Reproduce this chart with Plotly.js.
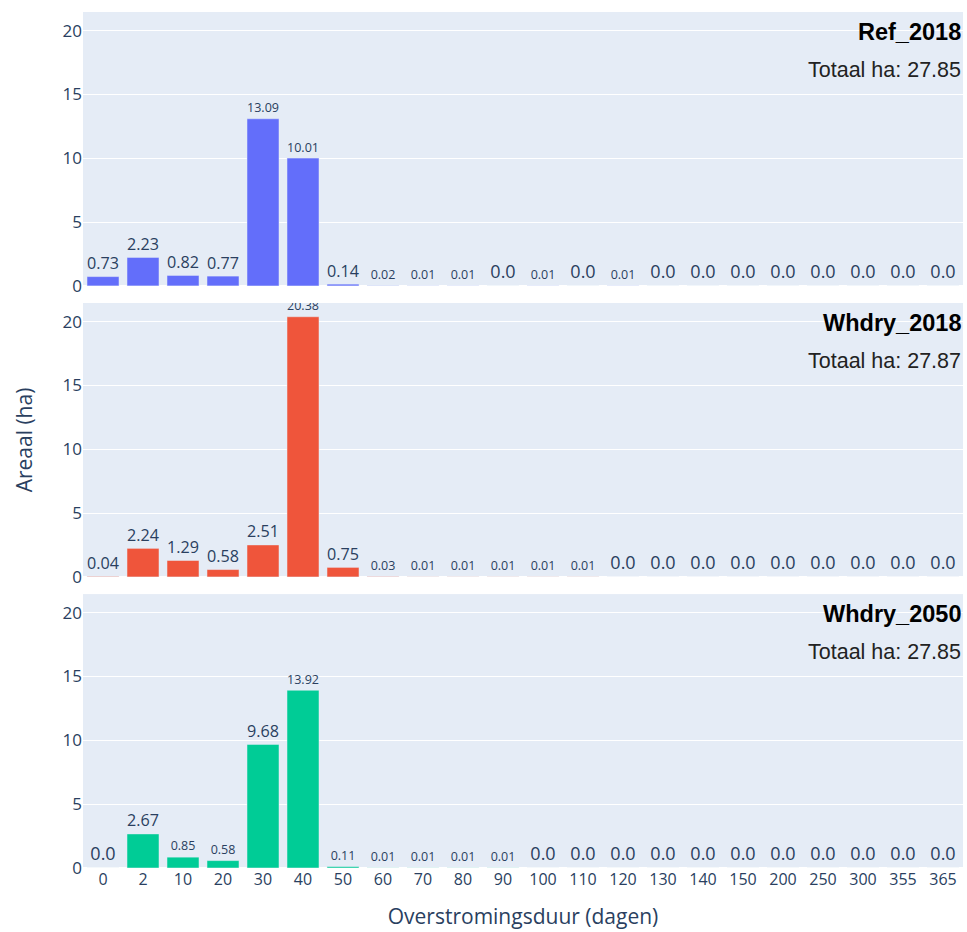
<!DOCTYPE html>
<html>
<head>
<meta charset="utf-8">
<script src="https://cdn.plot.ly/plotly-3.0.1.min.js"></script>
<style>html,body{margin:0;padding:0;background:#fff;}#chart{width:967px;height:932px;}</style>
</head>
<body>
<div id="chart"></div>
<script>
const categories = ["0","2","10","20","30","40","50","60","70","80","90","100","110","120","130","140","150","200","250","300","355","365"];
const ref2018 = [0.73,2.23,0.82,0.77,13.09,10.01,0.14,0.02,0.01,0.01,0.0,0.01,0.0,0.01,0.0,0.0,0.0,0.0,0.0,0.0,0.0,0.0];
const whdry2018 = [0.04,2.24,1.29,0.58,2.51,20.38,0.75,0.03,0.01,0.01,0.01,0.01,0.01,0.0,0.0,0.0,0.0,0.0,0.0,0.0,0.0,0.0];
const whdry2050 = [0.0,2.67,0.85,0.58,9.68,13.92,0.11,0.01,0.01,0.01,0.01,0.0,0.0,0.0,0.0,0.0,0.0,0.0,0.0,0.0,0.0,0.0];
const seriesNames = ["Ref_2018","Whdry_2018","Whdry_2050"];
const totals = ["27.85","27.87","27.85"];
const colors = ["#636efa","#EF553B","#00cc96"];

// label font sizes as drawn in the reference (style only; Plotly shrinks wide labels to the bar width)
const S = 18, s = 12.5;
const labelSizes = [
  [S,S,S,S,S,S,S,s,s,s,S,s,S,s,S,S,S,S,S,S,S,S],
  [S,S,S,S,S,S,S,s,s,s,s,s,s,S,S,S,S,S,S,S,S,S],
  [S,S,s,s,S,S,s,s,s,s,s,S,S,S,S,S,S,S,S,S,S,S]
];

function pyStr(v){ return Number.isInteger(v) ? v.toFixed(1) : String(v); }

const allSeries = [ref2018, whdry2018, whdry2050];
const traces = allSeries.map((vals, i) => ({
  type: 'bar',
  x: categories,
  y: vals,
  text: vals.map(pyStr),
  textposition: 'outside',
  textfont: {size: labelSizes[i], color: '#2a3f5f'},
  marker: {color: colors[i], line: {color: '#E5ECF6', width: 0.5}},
  xaxis: i === 0 ? 'x' : 'x' + (i + 1),
  yaxis: i === 0 ? 'y' : 'y' + (i + 1),
  name: seriesNames[i],
  showlegend: false
}));

const domains = [[0.68, 1], [0.34, 0.66], [0, 0.32]];
const fontFamily = '"Open Sans", verdana, arial, sans-serif';
const layout = {
  width: 967, height: 932,
  margin: {l: 83, r: 4, t: 12, b: 64},
  paper_bgcolor: '#ffffff',
  plot_bgcolor: '#E5ECF6',
  font: {family: fontFamily, color: '#2a3f5f'},
  showlegend: false,
  annotations: []
};
for (let i = 0; i < 3; i++) {
  const sx = i === 0 ? '' : String(i + 1);
  layout['xaxis' + sx] = {
    type: 'category',
    anchor: 'y' + sx,
    matches: i === 0 ? undefined : 'x',
    showticklabels: i === 2,
    showgrid: false,
    tickfont: {family: fontFamily, size: 16, color: '#2a3f5f'},
    zeroline: false,
    ticks: '',
    title: i === 2 ? {text: 'Overstromingsduur (dagen)', font: {size: 21, color: '#2a3f5f'}, standoff: 20} : undefined
  };
  layout['yaxis' + sx] = {
    domain: domains[i],
    anchor: 'x' + sx,
    matches: i === 0 ? undefined : 'y',
    tickfont: {family: fontFamily, size: 17, color: '#2a3f5f'},
    gridcolor: '#ffffff',
    gridwidth: 1,
    zeroline: true,
    zerolinecolor: '#ffffff',
    zerolinewidth: 2,
    dtick: 5,
    ticks: '',
    title: i === 1 ? {text: 'Areaal (ha)', font: {size: 21, color: '#2a3f5f'}, standoff: 24} : undefined
  };
  layout.annotations.push({
    xref: 'x' + sx + ' domain', yref: 'y' + sx + ' domain',
    x: 1, y: 0.927, xanchor: 'right', yanchor: 'middle', showarrow: false,
    text: '<b>' + seriesNames[i] + '</b>',
    font: {family: 'Arial', size: 23.5, color: '#000000'}
  });
  layout.annotations.push({
    xref: 'x' + sx + ' domain', yref: 'y' + sx + ' domain',
    x: 1, y: 0.79, xanchor: 'right', yanchor: 'middle', showarrow: false,
    text: 'Totaal ha: ' + totals[i],
    font: {family: 'Arial', size: 21.5, color: '#222222'}
  });
}
Plotly.newPlot('chart', traces, layout, {displayModeBar: false});
</script>
</body>
</html>
